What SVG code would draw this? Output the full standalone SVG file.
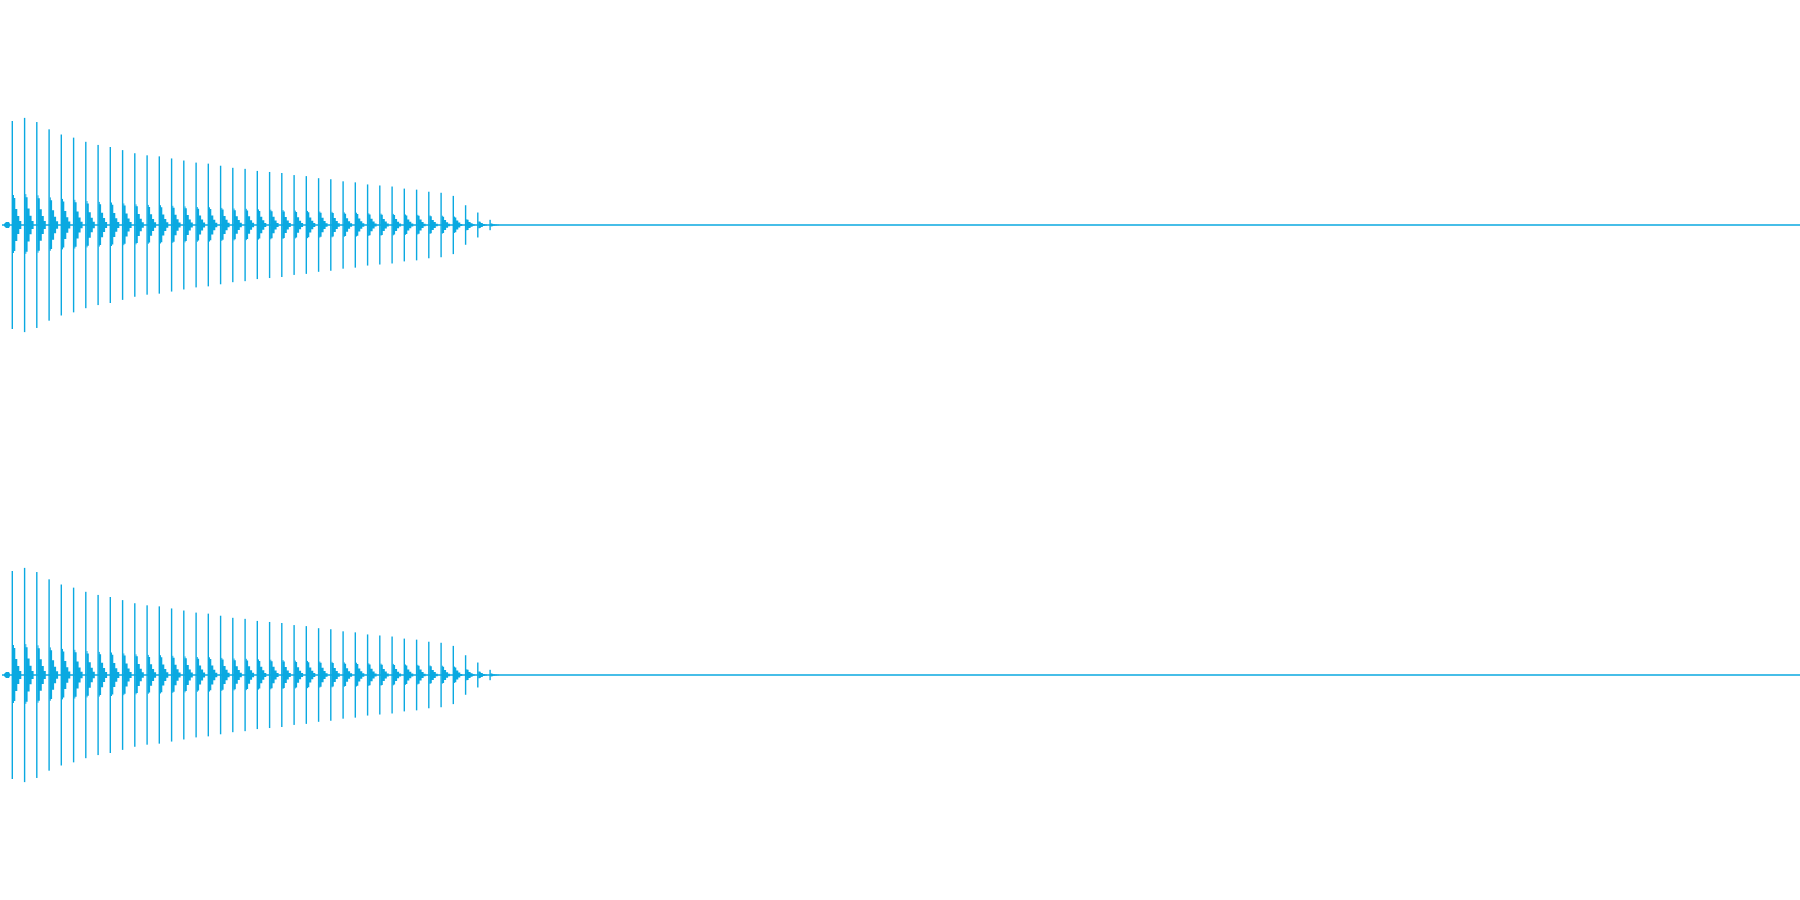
<svg xmlns="http://www.w3.org/2000/svg" xmlns:xlink="http://www.w3.org/1999/xlink" width="1800" height="900" viewBox="0 0 1800 900">
<style>.w{fill:#0aa9e1}.b{stroke:#0aa9e1;stroke-width:1.3;fill:none}</style>
<defs>
<g id="s"><rect class="w" x="-0.7" y="-104" width="1.4" height="208"/><rect class="w" x="0.7" y="-30" width="1" height="58"/><polygon class="w" points="0.7,-27 3,-27 3,-16 5,-16 5,-9 7,-9 7,-4 9,-4 9,4 7,4 7,9 5,9 5,16 3,16 3,26 0.7,26"/></g>
<g id="t">
<line class="b" x1="2" y1="0" x2="1800" y2="0"/>
<polygon class="w" points="4,-1 6,-3 9,-3 10,-1 10,1 9,3 6,3 4,1"/>
<use xlink:href="#s" transform="translate(12.3,0) scale(1,1)"/>
<use xlink:href="#s" transform="translate(24.6,0) scale(1,1.03)"/>
<use xlink:href="#s" transform="translate(36.8,0) scale(1,0.99)"/>
<use xlink:href="#s" transform="translate(49.1,0) scale(1,0.92)"/>
<use xlink:href="#s" transform="translate(61.3,0) scale(1,0.87)"/>
<use xlink:href="#s" transform="translate(73.6,0) scale(1,0.84)"/>
<use xlink:href="#s" transform="translate(85.8,0) scale(1,0.8)"/>
<use xlink:href="#s" transform="translate(98.1,0) scale(1,0.77)"/>
<use xlink:href="#s" transform="translate(110.3,0) scale(1,0.75)"/>
<use xlink:href="#s" transform="translate(122.6,0) scale(1,0.72)"/>
<use xlink:href="#s" transform="translate(134.8,0) scale(1,0.69)"/>
<use xlink:href="#s" transform="translate(147.1,0) scale(1,0.67)"/>
<use xlink:href="#s" transform="translate(159.3,0) scale(1,0.66)"/>
<use xlink:href="#s" transform="translate(171.6,0) scale(1,0.64)"/>
<use xlink:href="#s" transform="translate(183.8,0) scale(1,0.62)"/>
<use xlink:href="#s" transform="translate(196.1,0) scale(1,0.6)"/>
<use xlink:href="#s" transform="translate(208.3,0) scale(1,0.59)"/>
<use xlink:href="#s" transform="translate(220.6,0) scale(1,0.57)"/>
<use xlink:href="#s" transform="translate(232.8,0) scale(1,0.55)"/>
<use xlink:href="#s" transform="translate(245.1,0) scale(1,0.54)"/>
<use xlink:href="#s" transform="translate(257.3,0) scale(1,0.52)"/>
<use xlink:href="#s" transform="translate(269.6,0) scale(1,0.51)"/>
<use xlink:href="#s" transform="translate(281.8,0) scale(1,0.5)"/>
<use xlink:href="#s" transform="translate(294.1,0) scale(1,0.48)"/>
<use xlink:href="#s" transform="translate(306.3,0) scale(1,0.47)"/>
<use xlink:href="#s" transform="translate(318.6,0) scale(1,0.45)"/>
<use xlink:href="#s" transform="translate(330.8,0) scale(1,0.44)"/>
<use xlink:href="#s" transform="translate(343.1,0) scale(1,0.42)"/>
<use xlink:href="#s" transform="translate(355.3,0) scale(1,0.41)"/>
<use xlink:href="#s" transform="translate(367.6,0) scale(1,0.39)"/>
<use xlink:href="#s" transform="translate(379.8,0) scale(1,0.38)"/>
<use xlink:href="#s" transform="translate(392.1,0) scale(1,0.37)"/>
<use xlink:href="#s" transform="translate(404.3,0) scale(1,0.35)"/>
<use xlink:href="#s" transform="translate(416.6,0) scale(1,0.34)"/>
<use xlink:href="#s" transform="translate(428.8,0) scale(1,0.32)"/>
<use xlink:href="#s" transform="translate(441.1,0) scale(1,0.31)"/>
<use xlink:href="#s" transform="translate(453.3,0) scale(1,0.28)"/>
<use xlink:href="#s" transform="translate(465.6,0) scale(1,0.19)"/>
<use xlink:href="#s" transform="translate(477.8,0) scale(1,0.12)"/>
<use xlink:href="#s" transform="translate(490.1,0) scale(1,0.05)"/>
</g>
</defs>
<rect width="1800" height="900" fill="#fff"/>
<g id="track1"><use xlink:href="#t" transform="translate(0,225)"/></g>
<g id="track2"><use xlink:href="#t" transform="translate(0,675)"/></g>
</svg>
